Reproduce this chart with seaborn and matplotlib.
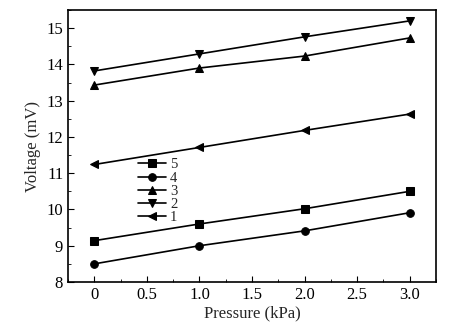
import matplotlib
matplotlib.use("Agg")
import matplotlib.pyplot as plt
import seaborn as sns
import pandas as pd
from matplotlib.ticker import MultipleLocator

sns.set_style("ticks")
plt.rcParams['font.family'] = ['Liberation Serif', 'DejaVu Serif']

pressure = [0, 1.0, 2.0, 3.0]
s5 = [9.14, 9.60, 10.02, 10.50]
s4 = [8.50, 9.00, 9.41, 9.91]
s3 = [13.43, 13.90, 14.23, 14.73]
s2 = [13.82, 14.29, 14.76, 15.20]
s1 = [11.24, 11.71, 12.18, 12.63]

labels = ["5", "4", "3", "2", "1"]
series = [s5, s4, s3, s2, s1]
markers = ["s", "o", "^", "v", "<"]

rows = []
for lab, vals in zip(labels, series):
    for p, v in zip(pressure, vals):
        rows.append({"Pressure": p, "Voltage": v, "Series": lab})
df = pd.DataFrame(rows)

fig = plt.figure(figsize=(4.58, 3.29), dpi=100)
ax = fig.add_axes([68/458, 1-282/329, (436-68)/458, (282-10)/329])
sns.lineplot(data=df, x="Pressure", y="Voltage", hue="Series", style="Series",
             hue_order=labels, style_order=labels,
             palette=["black"]*5, markers=dict(zip(labels, markers)),
             dashes=False, markersize=5.5, linewidth=1.2, markeredgecolor="black",
             ax=ax)

ax.set_xlim(-0.25, 3.25)
ax.set_ylim(8, 15.5)
ax.xaxis.set_minor_locator(MultipleLocator(0.25))
ax.yaxis.set_major_locator(MultipleLocator(1))
ax.yaxis.set_minor_locator(MultipleLocator(0.5))
ax.set_xticks([0, 0.5, 1.0, 1.5, 2.0, 2.5, 3.0])
ax.set_xticklabels(["0", "0.5", "1.0", "1.5", "2.0", "2.5", "3.0"])
ax.tick_params(which="both", direction="in", labelsize=12, colors="black")
ax.tick_params(which="major", length=4)
ax.tick_params(which="minor", length=2)
for s in ax.spines.values():
    s.set_visible(True)
    s.set_linewidth(1.2)
    s.set_color("black")
ax.set_xlabel("Pressure (kPa)", fontsize=12, labelpad=2)
ax.set_ylabel("Voltage (mV)", fontsize=12, labelpad=4)

leg = ax.legend(loc="upper left", bbox_to_anchor=(0.19, 0.455), frameon=False,
                fontsize=10.5, handlelength=1.95, labelspacing=0.0, handletextpad=0.25,
                borderaxespad=0, borderpad=0)

fig.savefig("out.png", dpi=100)
